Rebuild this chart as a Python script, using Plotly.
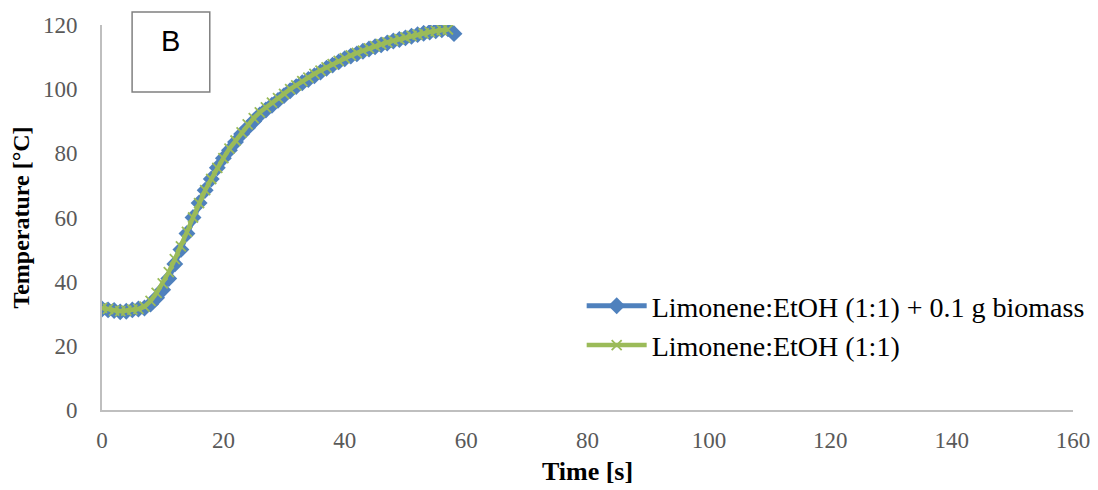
import plotly.graph_objects as go

time_blue = list(range(0, 59))
temp_blue = [31.5, 31.2, 31.0, 30.6, 30.8, 31.2, 31.5, 31.8, 33.0, 35.0,
             37.5, 41.0, 45.5, 50.0, 55.0, 60.0, 64.5, 68.5, 72.0, 75.5,
             78.5, 81.0, 83.5, 86.0, 88.0, 90.0, 92.0, 93.5, 95.0, 96.5,
             98.0, 99.5, 100.8, 102.0, 103.0, 104.2, 105.3, 106.5, 107.5, 108.5,
             109.5, 110.3, 111.0, 111.8, 112.5, 113.2, 113.8, 114.4, 115.0, 115.5,
             116.0, 116.5, 117.0, 117.4, 117.8, 118.2, 118.5, 118.8, 117.3]

time_green = list(range(0, 58))
temp_green = [31.8, 31.5, 31.0, 30.8, 31.0, 31.3, 31.5, 32.2, 34.0, 36.5,
              39.5, 43.0, 47.0, 51.0, 55.5, 60.0, 64.5, 68.5, 72.0, 75.5,
              78.5, 81.5, 84.0, 86.5, 89.0, 91.0, 92.8, 94.3, 95.8, 97.2,
              98.5, 100.0, 101.2, 102.5, 103.6, 104.8, 105.8, 106.8, 107.8, 108.8,
              109.7, 110.5, 111.3, 112.0, 112.7, 113.4, 114.0, 114.6, 115.1, 115.6,
              116.1, 116.6, 117.0, 117.4, 117.8, 118.1, 118.4, 118.6]

name_blue = "Limonene:EtOH (1:1) + 0.1 g biomass"
name_green = "Limonene:EtOH (1:1)"

x_ticks = [0, 20, 40, 60, 80, 100, 120, 140, 160]
y_ticks = [0, 20, 40, 60, 80, 100, 120]

fig = go.Figure()
fig.add_trace(go.Scatter(
    x=time_blue, y=temp_blue, name=name_blue, mode="lines+markers",
    line=dict(color="#4F81BD", width=5),
    marker=dict(symbol="diamond", size=13, color="#4F81BD"),
))
fig.add_trace(go.Scatter(
    x=time_green, y=temp_green, name=name_green, mode="lines+markers",
    line=dict(color="#9BBB59", width=4.5),
    marker=dict(symbol="x-thin", size=10, color="#9BBB59",
                line=dict(color="#9BBB59", width=1.8)),
))

tickfont = dict(family="Liberation Serif", size=23, color="#595959")

fig.update_layout(
    width=1090, height=482,
    margin=dict(l=94, r=25, t=17, b=80, autoexpand=False),
    paper_bgcolor="white", plot_bgcolor="white",
    showlegend=True,
    legend=dict(x=0.494, y=0.335, xanchor="left", yanchor="top",
                font=dict(family="Liberation Serif", size=28, color="#000000"),
                itemwidth=60, tracegroupgap=0, bgcolor="rgba(0,0,0,0)"),
    xaxis=dict(range=[0, 160], tickvals=x_ticks, showgrid=False, zeroline=False,
               showline=True, linecolor="#BFBFBF", linewidth=2, ticks="",
               tickfont=tickfont, ticklabelstandoff=8,
               title=dict(text="<b>Time [s]</b>",
                          font=dict(family="Liberation Serif", size=26, color="#000000"),
                          standoff=10)),
    yaxis=dict(range=[0, 120], tickvals=y_ticks, showgrid=False, zeroline=False,
               showline=True, linecolor="#BFBFBF", linewidth=2, ticks="",
               tickfont=tickfont, ticklabelstandoff=18,
               title=dict(text="<b>Temperature [°C]</b>",
                          font=dict(family="Liberation Serif", size=24, color="#000000"),
                          standoff=13)),
)

fig.add_shape(type="rect", xref="paper", yref="paper",
              x0=0.031, x1=0.111, y0=0.826, y1=1.034,
              line=dict(color="#808080", width=1.5), fillcolor="white")
fig.add_annotation(xref="paper", yref="paper", x=0.071, y=0.958,
                   xanchor="center", yanchor="middle",
                   text="B", showarrow=False,
                   font=dict(family="Liberation Sans", size=29, color="#000000"))

fig.write_html("out.html")
